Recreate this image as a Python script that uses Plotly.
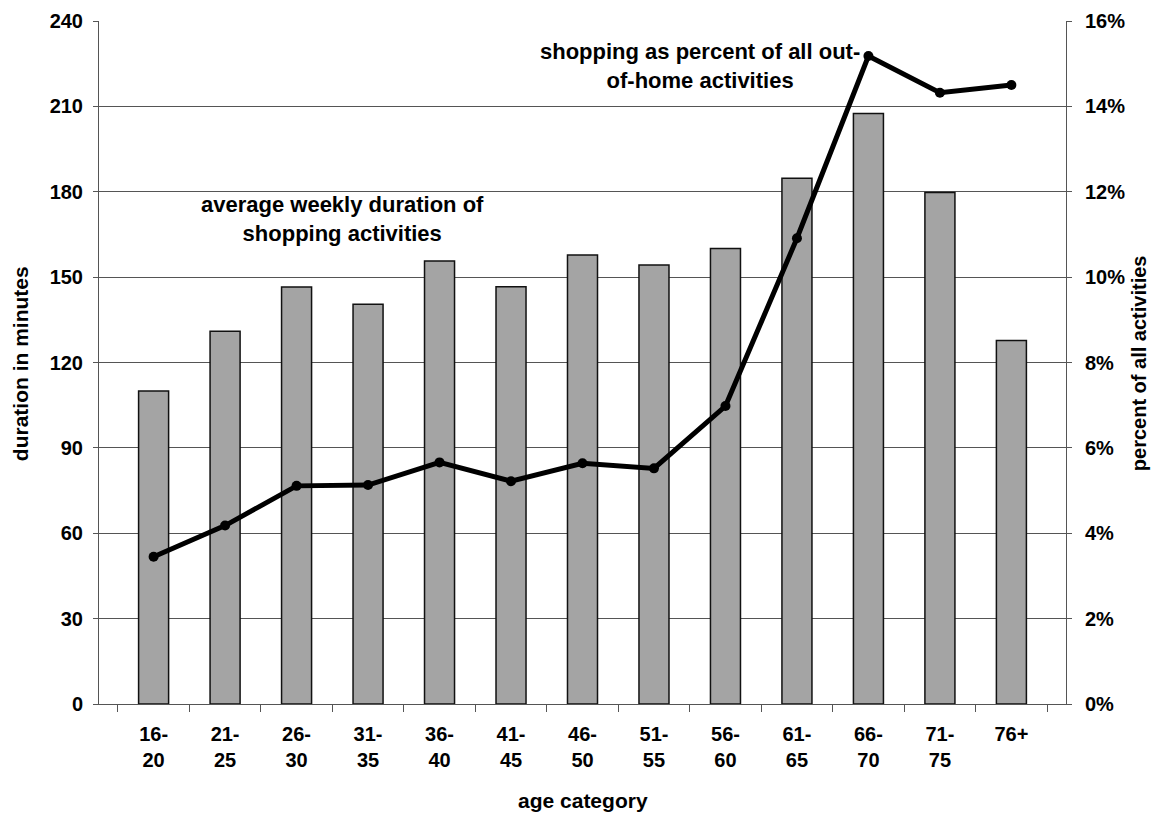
import plotly.graph_objects as go

categories = ["16-<br>20", "21-<br>25", "26-<br>30", "31-<br>35", "36-<br>40", "41-<br>45",
              "46-<br>50", "51-<br>55", "56-<br>60", "61-<br>65", "66-<br>70", "71-<br>75", "76+"]
duration_minutes = [110, 131, 146.5, 140.5, 155.7, 146.6, 157.8, 154.3, 160.1, 184.7, 207.5, 179.7, 127.7]
shopping_share = [0.0345, 0.0418, 0.0511, 0.0513, 0.0566, 0.0522, 0.0564, 0.0552, 0.0698,
                  0.1091, 0.1518, 0.1432, 0.1450]

FONT = "Arial, Liberation Sans, sans-serif"
GRID = "#555555"

fig = go.Figure()
fig.add_trace(go.Bar(
    x=categories, y=duration_minutes, yaxis="y",
    marker=dict(color="#a4a4a4", line=dict(color="#111111", width=1.5)),
    showlegend=False,
))
fig.add_trace(go.Scatter(
    x=categories, y=shopping_share, yaxis="y2", mode="lines+markers",
    line=dict(color="#000000", width=5),
    marker=dict(color="#000000", size=10),
    showlegend=False,
))

tickfont = dict(family=FONT, size=20, color="#000", weight="bold")
annfont = dict(family=FONT, size=22, color="#000", weight="bold")

fig.update_layout(
    width=1153, height=813,
    margin=dict(l=99, r=87, t=21, b=109, autoexpand=False),
    paper_bgcolor="white", plot_bgcolor="white",
    bargap=0.58,
    font=dict(family=FONT, size=19, color="#000000"),
    xaxis=dict(
        type="category", showline=True, linecolor=GRID, linewidth=1,
        ticks="outside", tickson="boundaries", ticklen=7, tickcolor=GRID,
        tickfont=tickfont, ticklabelstandoff=12, automargin=False,
        showgrid=False,
    ),
    yaxis=dict(
        range=[0, 240], dtick=30, tick0=0,
        showline=True, linecolor=GRID, linewidth=1,
        ticks="outside", ticklen=5, tickcolor=GRID,
        showgrid=True, gridcolor=GRID, gridwidth=1,
        zeroline=False, automargin=False,
        tickfont=tickfont, ticklabelstandoff=6,
    ),
    yaxis2=dict(
        range=[0, 0.16], dtick=0.02, tick0=0, tickformat=".0%",
        overlaying="y", side="right",
        showline=True, linecolor=GRID, linewidth=1,
        ticks="outside", ticklen=5, tickcolor=GRID,
        showgrid=False, zeroline=False, automargin=False,
        tickfont=tickfont, ticklabelstandoff=9,
    ),
    annotations=[
        dict(text="average weekly duration of<br>shopping activities",
             xref="paper", yref="paper", x=0.2523, y=0.7094,
             xanchor="center", yanchor="middle", showarrow=False,
             font=annfont),
        dict(text="shopping as percent of all out-<br>of-home activities",
             xref="paper", yref="paper", x=0.6215, y=0.934,
             xanchor="center", yanchor="middle", showarrow=False,
             font=annfont),
        dict(text="duration in minutes", textangle=-90,
             xref="paper", yref="paper", x=-0.0817, y=0.499,
             xanchor="center", yanchor="middle", showarrow=False,
             font=dict(family=FONT, size=21, color="#000", weight="bold")),
        dict(text="percent of all activities", textangle=-90,
             xref="paper", yref="paper", x=1.0755, y=0.499,
             xanchor="center", yanchor="middle", showarrow=False,
             font=dict(family=FONT, size=20, color="#000", weight="bold")),
        dict(text="age category",
             xref="paper", yref="paper", x=0.5, y=-0.142,
             xanchor="center", yanchor="middle", showarrow=False,
             font=dict(family=FONT, size=21, color="#000", weight="bold")),
    ],
)

fig.write_html("out.html")
